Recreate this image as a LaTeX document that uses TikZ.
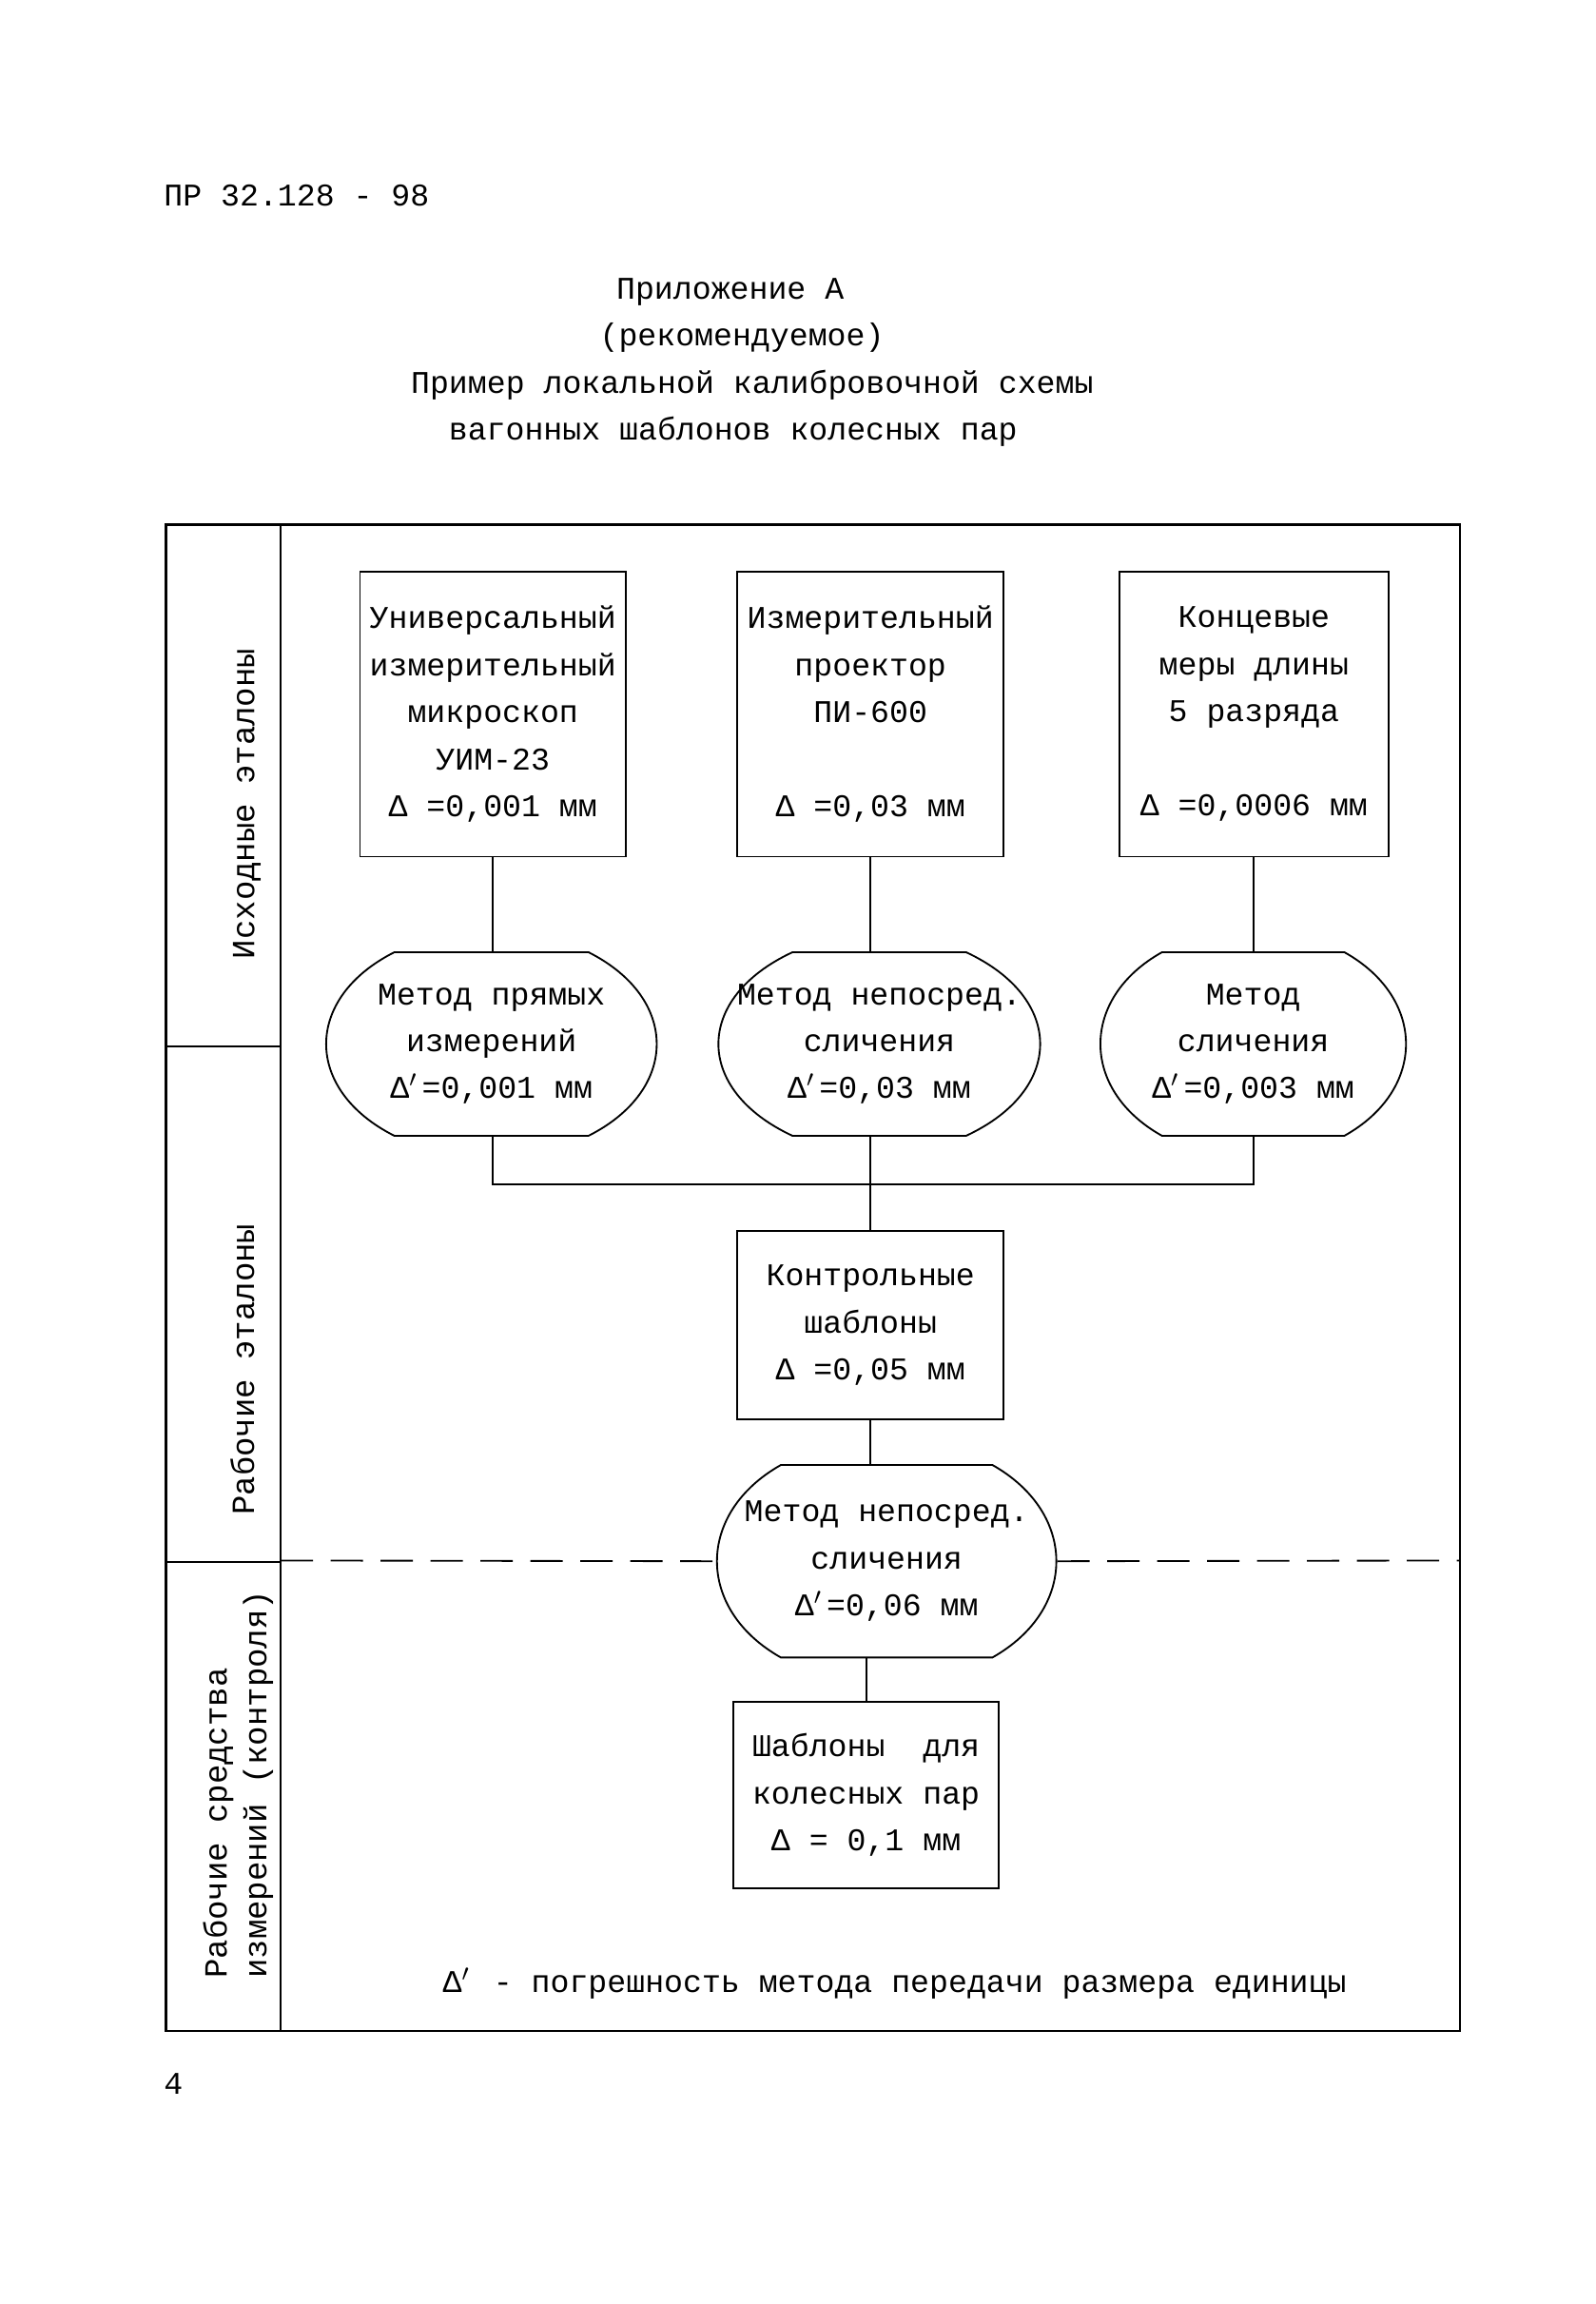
\documentclass[tikz,border=0pt]{standalone}
\usepackage{fontspec}
\setmainfont{Liberation Mono}
\usetikzlibrary{calc}
\newcommand\dpr{Δ\makebox[0.4em][l]{$'$}}
% name, half flat width, half width, half height
\newcommand\barrel[4]{%
  \draw ($(#1)+(-#2,-#4)$) -- ($(#1)+(#2,-#4)$)
    .. controls ($(#1)+({(8*#3-2*#2)/6},{-0.5*#4})$) and ($(#1)+({(8*#3-2*#2)/6},{0.5*#4})$) .. ($(#1)+(#2,#4)$)
    -- ($(#1)+(-#2,#4)$)
    .. controls ($(#1)+({-(8*#3-2*#2)/6},{0.5*#4})$) and ($(#1)+({-(8*#3-2*#2)/6},{-0.5*#4})$) .. cycle;}
\begin{document}
\begin{tikzpicture}[x=0.5pt,y=-0.5pt,line width=0.6pt,
  every node/.style={font=\fontsize{10.75}{16}\selectfont,inner sep=0pt},
  box/.style={draw,rectangle,align=center},
  meth/.style={rectangle,align=center},
  lbl/.style={rotate=90,font=\fontsize{11}{13.5}\selectfont},
  dsh/.style={dash pattern=on 11pt off 6pt}]
\useasboundingbox (0,0) rectangle (1086,1568);
\fill[white] (0,0) rectangle (1086,1568);

% header and title
\node[anchor=west] (hdr) at (111,133) {ПР 32.128 - 98};
\node (t1) at (497,199) {Приложение А};
\node (t2) at (505,230) {(рекомендуемое)};
\node (t3) at (512,262) {Пример локальной калибровочной схемы};
\node (t4) at (499,294) {вагонных шаблонов колесных пар};

% frame and label column
\draw[line width=0.7pt] (113,357) rectangle (994,1382);
\draw (191,357) -- (191,1382);
\draw (113,712) -- (191,712);
\draw (113,1063) -- (191,1063);
\node[lbl] (l1) at (168,547) {Исходные эталоны};
\node[lbl] (l2) at (165,932) {Рабочие эталоны};
\node[lbl,anchor=west,align=left] (l3) at (162,1347) {Рабочие средства\\измерений (контроля)};

% top boxes
\node[box,minimum width=90.5pt,minimum height=97pt] (b1) at (335.5,486)
  {Универсальный\\измерительный\\микроскоп\\УИМ-23\\Δ =0,001 мм};
\node[box,minimum width=90.5pt,minimum height=97pt] (b2) at (592.5,486)
  {Измерительный\\проектор\\ПИ-600\\[16pt]Δ =0,03 мм};
\node[box,minimum width=91.5pt,minimum height=97pt] (b3) at (853.5,486)
  {Концевые\\меры длины\\5 разряда\\[16pt]Δ =0,0006 мм};

% methods
\node[meth,minimum width=112.5pt,minimum height=62.5pt] (m1) at (334.5,710.5)
  {Метод прямых\\измерений\\\dpr=0,001 мм};
\node[meth,minimum width=109.5pt,minimum height=62.5pt] (m2) at (598.5,710.5)
  {Метод непосред.\\сличения\\\dpr=0,03 мм};
\node[meth,minimum width=104pt,minimum height=62.5pt] (m3) at (853,710.5)
  {Метод\\сличения\\\dpr=0,003 мм};
\barrel{m1}{66}{112.5}{62.5}
\barrel{m2}{59}{109.5}{62.5}
\barrel{m3}{62}{104}{62.5}

% working standard
\node[box,minimum width=90.5pt,minimum height=64pt] (b4) at (592.5,902)
  {Контрольные\\шаблоны\\Δ =0,05 мм};
\node[meth,minimum width=115.5pt,minimum height=65.5pt] (m4) at (603.5,1062.5)
  {Метод непосред.\\сличения\\\dpr=0,06 мм};
\barrel{m4}{72}{115.5}{65.5}
\node[box,minimum width=90.5pt,minimum height=63.5pt] (b5) at (589.5,1221.5)
  {Шаблоны\ \ для\\колесных пар\\Δ = 0,1 мм};

% connectors
\coordinate (bus) at (0,806);
\draw (b1.south) -- (b1.south |- m1.north);
\draw (b2.south) -- (b2.south |- m2.north);
\draw (b3.south) -- (b3.south |- m3.north);
\draw (b1.south |- m1.south) -- (b1.south |- bus) -- (b3.south |- bus) -- (b3.south |- m3.south);
\draw (b2.south |- m2.south) -- (b4.north);
\draw (b4.south) -- (b4.south |- m4.north);
\draw (b5.north |- m4.south) -- (b5.north);

% dashed boundary
\draw[dsh] (191,1062) -- (m4.west);
\draw[dsh] (m4.east) -- (994,1062);

% footnote and page number
\node (fn) at (609,1350) {\dpr{} - погрешность метода передачи размера единицы};
\node[anchor=west] (pg) at (111,1418) {4};
\end{tikzpicture}
\end{document}
